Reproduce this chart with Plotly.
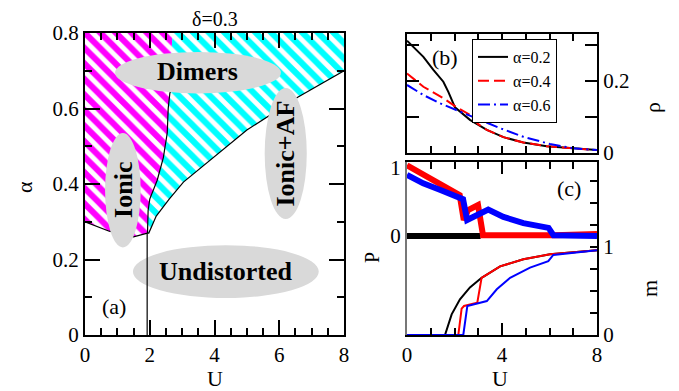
import plotly.graph_objects as go

# page body has an 8px margin, so the figure is drawn 8px in from the window edge
OFF = 8
W, H = 679 - OFF, 391 - OFF
FONT = "Liberation Serif"

# ---------------- data: panel (a) phase diagram ----------------
ionic_U = [0, 0, 2.70, 2.66, 2.62, 2.57, 2.54, 2.42, 2.23, 2.0, 1.95, 1.93, 1.5, 0.75, 0]
ionic_a = [0.30, 0.80, 0.80, 0.70, 0.64, 0.60, 0.535, 0.47, 0.41, 0.36, 0.33, 0.27, 0.26, 0.275, 0.30]

dimer_U = [2.70, 8, 8, 6.57, 5.0, 3.04, 2.6, 2.2, 1.97, 1.93, 1.95, 2.0, 2.23, 2.42, 2.54, 2.57, 2.62, 2.66, 2.70]
dimer_a = [0.80, 0.80, 0.70, 0.63, 0.543, 0.405, 0.36, 0.315, 0.27, 0.27, 0.33, 0.36, 0.41, 0.47, 0.535, 0.60, 0.64, 0.70, 0.80]

# boundary lines
b1_U = [0, 0.75, 1.5, 1.93]
b1_a = [0.30, 0.275, 0.26, 0.27]
b2_U = [2.64, 2.62, 2.57, 2.54, 2.42, 2.23, 2.0, 1.95, 1.93]
b2_a = [0.645, 0.64, 0.60, 0.535, 0.47, 0.41, 0.36, 0.33, 0.27]
b3_U = [1.93, 1.97, 2.2, 2.6, 3.04, 5.0, 6.57, 8]
b3_a = [0.27, 0.27, 0.315, 0.36, 0.405, 0.543, 0.63, 0.70]
b4_U = [1.92, 1.92]
b4_a = [0.0, 0.27]

# ---------------- data: panel (b) rho ----------------
rho02_U = [0, 0.69, 1.11, 1.53, 1.74, 2.02, 2.65, 3.36, 4.06, 4.9, 5.88, 7.0, 8]
rho02 = [0.312, 0.267, 0.231, 0.198, 0.170, 0.127, 0.092, 0.064, 0.044, 0.029, 0.019, 0.013, 0.008]
rho04_U = [0, 0.69, 1.53, 2.09, 2.65, 3.0, 3.36, 4.06, 4.9, 5.88, 7.0, 8]
rho04 = [0.221, 0.184, 0.152, 0.127, 0.106, 0.080, 0.064, 0.044, 0.029, 0.019, 0.013, 0.008]
rho06_U = [0, 0.69, 1.39, 2.09, 2.93, 3.92, 4.9, 6.02, 7.0, 8]
rho06 = [0.189, 0.161, 0.138, 0.119, 0.096, 0.069, 0.045, 0.025, 0.013, 0.008]

# ---------------- data: panel (c) P and m ----------------
P02_U = [0, 3.1]
P02 = [0, 0]
P04_U = [0, 0.68, 1.38, 2.22, 2.39, 2.57, 2.99, 3.2, 6.2, 8]
P04 = [1.04, 0.90, 0.775, 0.60, 0.235, 0.38, 0.455, 0.01, 0.01, 0.03]
P06_U = [0, 0.68, 1.38, 2.36, 2.53, 2.93, 3.42, 4.06, 4.9, 5.96, 6.17, 8]
P06 = [0.90, 0.775, 0.68, 0.54, 0.235, 0.31, 0.39, 0.28, 0.19, 0.12, 0.01, 0.0]

m02_U = [0, 1.6, 1.88, 2.23, 2.65, 3.14, 3.92, 4.9, 6.02, 8]
m02 = [0, 0, 0.235, 0.405, 0.54, 0.65, 0.78, 0.86, 0.917, 0.962]
m04_U = [0, 2.16, 2.30, 2.40, 2.96, 3.14, 3.92, 4.9, 6.02, 8]
m04 = [0, 0, 0.30, 0.33, 0.367, 0.65, 0.78, 0.86, 0.917, 0.962]
m06_U = [0, 2.37, 2.54, 3.36, 3.78, 4.34, 5.18, 5.95, 6.16, 8]
m06 = [0, 0, 0.33, 0.386, 0.52, 0.65, 0.765, 0.84, 0.91, 0.962]

# ---------------- layout helpers (window pixel -> paper fraction) ----------------
def px_x(p):
    return (p - OFF) / W

def px_y(p):
    return 1 - (p - OFF) / H

dom_a_x = [px_x(85), px_x(344)]
dom_a_y = [px_y(335), px_y(33)]
dom_b_x = [px_x(407), px_x(597)]
dom_b_y = [px_y(153), px_y(34)]
dom_c_y = [px_y(335), px_y(162)]

fig = go.Figure()

MAG = "#ff00ff"
CYA = "#00ffff"

for xs, ys, col in [(ionic_U, ionic_a, MAG), (dimer_U, dimer_a, CYA)]:
    fig.add_trace(go.Scatter(x=xs, y=ys, mode="lines", line=dict(width=0), fill="toself",
                             fillcolor=col,
                             fillpattern=dict(shape="\\", fgcolor=col, fgopacity=1, bgcolor="white",
                                              size=11, solidity=0.55, fillmode="replace"),
                             showlegend=False, hoverinfo="skip", xaxis="x", yaxis="y"))
for bu, ba in [(b1_U, b1_a), (b2_U, b2_a), (b3_U, b3_a), (b4_U, b4_a)]:
    fig.add_trace(go.Scatter(x=bu, y=ba, mode="lines", line=dict(color="black", width=1.2),
                             showlegend=False, hoverinfo="skip", xaxis="x", yaxis="y"))

# panel (b)
fig.add_trace(go.Scatter(x=rho02_U, y=rho02, mode="lines", name="α=0.2",
                         line=dict(color="black", width=2), xaxis="x2", yaxis="y2"))
fig.add_trace(go.Scatter(x=rho04_U, y=rho04, mode="lines", name="α=0.4",
                         line=dict(color="red", width=2, dash="11px,5px"), xaxis="x2", yaxis="y2"))
fig.add_trace(go.Scatter(x=rho06_U, y=rho06, mode="lines", name="α=0.6",
                         line=dict(color="blue", width=2, dash="12px,4px,2px,4px"), xaxis="x2", yaxis="y2"))

# panel (c): P thick
fig.add_trace(go.Scatter(x=P02_U, y=P02, mode="lines", line=dict(color="black", width=6),
                         showlegend=False, xaxis="x3", yaxis="y3"))
fig.add_trace(go.Scatter(x=P04_U, y=P04, mode="lines", line=dict(color="red", width=6),
                         showlegend=False, xaxis="x3", yaxis="y3"))
fig.add_trace(go.Scatter(x=P06_U, y=P06, mode="lines", line=dict(color="blue", width=6),
                         showlegend=False, xaxis="x3", yaxis="y3"))
# m thin
fig.add_trace(go.Scatter(x=m02_U, y=m02, mode="lines", line=dict(color="black", width=2),
                         showlegend=False, xaxis="x3", yaxis="y4"))
fig.add_trace(go.Scatter(x=m04_U, y=m04, mode="lines", line=dict(color="red", width=2),
                         showlegend=False, xaxis="x3", yaxis="y4"))
fig.add_trace(go.Scatter(x=m06_U, y=m06, mode="lines", line=dict(color="blue", width=2),
                         showlegend=False, xaxis="x3", yaxis="y4"))

tickfont = dict(family=FONT, size=21, color="black")
common = dict(showgrid=False, zeroline=False, automargin=False, tickfont=tickfont,
              linecolor="black", tickcolor="black")

P_range = [-(335 - 236) / 68, (236 - 162) / 68]
m_range = [0, (335 - 162) / 88]
rho_range = [0, (153 - 34) / 360]

fig.update_layout(
    width=W, height=H,
    margin=dict(l=0, r=0, t=0, b=0),
    paper_bgcolor="white", plot_bgcolor="white",
    font=dict(family=FONT, color="black"),
    showlegend=True,
    legend=dict(x=px_x(472), y=px_y(39), xanchor="left", yanchor="top",
                bgcolor="white", bordercolor="black", borderwidth=1,
                font=dict(family=FONT, size=16, color="black"),
                tracegroupgap=0, itemwidth=30),
    xaxis=dict(domain=dom_a_x, anchor="y", range=[0, 8], tickvals=[0, 2, 4, 6, 8],
               ticks="inside", ticklen=15, tickwidth=1.5, showline=True, linewidth=2, mirror="ticks",
               minor=dict(dtick=0.5, ticks="inside", ticklen=7, tickwidth=1.5, tickcolor="black"),
               **common),
    yaxis=dict(domain=dom_a_y, anchor="x", range=[0, 0.8], tickvals=[0, 0.2, 0.4, 0.6, 0.8],
               ticktext=["0", "0.2", "0.4", "0.6", "0.8"],
               ticks="inside", ticklen=15, tickwidth=1.5, showline=True, linewidth=2, mirror="ticks",
               minor=dict(dtick=0.1, ticks="inside", ticklen=7, tickwidth=1.5, tickcolor="black"),
               **common),
    xaxis2=dict(domain=dom_b_x, anchor="y2", range=[0, 8], dtick=1, showticklabels=False,
                ticks="inside", ticklen=7, tickwidth=1.5, showline=True, linewidth=2, mirror="ticks",
                **common),
    yaxis2=dict(domain=dom_b_y, anchor="x2", side="right", range=rho_range,
                tickvals=[0, 0.1, 0.2, 0.3], ticktext=["0", "", "0.2", ""],
                ticks="inside", ticklen=12, tickwidth=1.5, showline=True, linewidth=2, mirror="ticks",
                **common),
    xaxis3=dict(domain=dom_b_x, anchor="y3", range=[0, 8], tickvals=[0, 4, 8],
                ticks="inside", ticklen=12, tickwidth=1.5, showline=True, linewidth=2, mirror="ticks",
                minor=dict(dtick=1, ticks="inside", ticklen=7, tickwidth=1.5, tickcolor="black"),
                **common),
    yaxis3=dict(domain=dom_c_y, anchor="x3", side="left", range=P_range,
                tickvals=[0, 1], ticktext=["0", "1"], ticks="",
                showline=True, linewidth=2, showgrid=False, zeroline=False, automargin=False,
                tickfont=tickfont, linecolor="#777777"),
    yaxis4=dict(anchor="x3", overlaying="y3", side="right", range=m_range,
                tickvals=[0, 0.25, 0.5, 0.75, 1, 1.25, 1.5, 1.75],
                ticktext=["0", "", "", "", "1", "", "", ""],
                ticks="inside", ticklen=7, tickwidth=1.5, showline=True, linewidth=2,
                **common),
)

# ellipses (labels of phases)
ELL = "#d9d9d9"
ellipses = [
    dict(x0=0.93, x1=6.05, y0=0.64, y1=0.75, layer="above"),   # Dimers
    dict(x0=0.62, x1=1.72, y0=0.232, y1=0.535, layer="above"),  # Ionic
    dict(x0=5.55, x1=6.85, y0=0.307, y1=0.654, layer="above"),  # Ionic+AF
    dict(x0=1.48, x1=7.22, y0=0.098, y1=0.238, layer="below"),  # Undistorted
]
for e in ellipses:
    fig.add_shape(type="circle", xref="x", yref="y", x0=e["x0"], x1=e["x1"], y0=e["y0"], y1=e["y1"],
                  fillcolor=ELL, line=dict(width=0), layer=e["layer"])

bold = dict(family=FONT, size=26, color="black")
fig.add_annotation(x=3.49, y=0.697, xref="x", yref="y", text="<b>Dimers</b>", showarrow=False, font=bold)
fig.add_annotation(x=1.17, y=0.384, xref="x", yref="y", text="<b>Ionic</b>", showarrow=False, font=bold, textangle=-90)
fig.add_annotation(x=6.2, y=0.48, xref="x", yref="y", text="<b>Ionic+AF</b>", showarrow=False, font=bold, textangle=-90)
fig.add_annotation(x=4.35, y=0.168, xref="x", yref="y", text="<b>Undistorted</b>", showarrow=False, font=bold)

lab = dict(family=FONT, size=22, color="black")
fig.add_annotation(x=0.9, y=0.075, xref="x", yref="y", text="(a)", showarrow=False, font=lab)
fig.add_annotation(x=1.6, y=0.265, xref="x2", yref="y2", text="(b)", showarrow=False, font=lab)
fig.add_annotation(x=6.8, y=0.7, xref="x3", yref="y3", text="(c)", showarrow=False, font=lab)

# axis titles / header
def pann(xp, yp, text, size=22, angle=0):
    fig.add_annotation(x=px_x(xp), y=px_y(yp), xref="paper", yref="paper", text=text,
                       showarrow=False, font=dict(family=FONT, size=size, color="black"),
                       textangle=angle, xanchor="center", yanchor="middle")

pann(215, 19, "δ=0.3", size=20)
pann(24, 187, "α", size=22, angle=-90)
pann(215, 378, "U", size=22)
pann(500, 378, "U", size=22)
pann(653, 108, "ρ", size=22, angle=-90)
pann(649, 289, "m", size=22, angle=-90)
pann(372, 258, "P", size=20, angle=-90)

fig.write_html("out.html")
